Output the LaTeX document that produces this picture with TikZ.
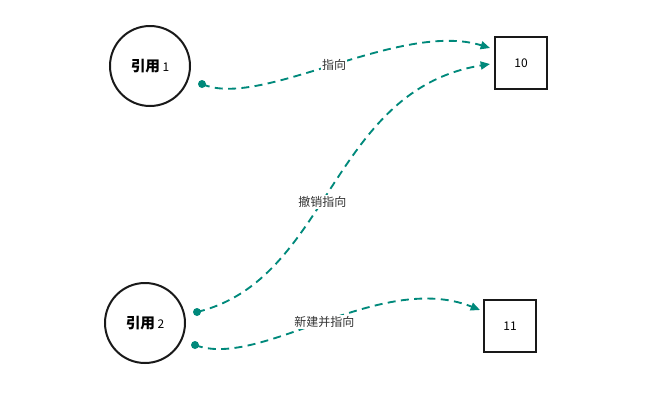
\documentclass[tikz,border=0pt]{standalone}
\usepackage{fontspec}
\setmainfont{Noto Sans CJK SC}
\usetikzlibrary{arrows.meta}
\definecolor{teal1}{HTML}{00897B}
\begin{document}
\begin{tikzpicture}[x=0.75pt,y=-0.75pt,
  ref/.style={circle,draw=black!90,line width=1.5pt,minimum size=60pt,font=\bfseries\fontsize{11}{13}\selectfont},
  val/.style={rectangle,draw=black!90,line width=1.5pt,minimum size=39pt,font=\fontsize{9}{11}\selectfont},
  lnk/.style={teal1,dashed,dash pattern=on 6pt off 4pt,line width=1.4pt,-{Triangle[length=7pt,width=6pt]}},
  dot/.style={circle,fill=teal1,inner sep=0pt,minimum size=6pt},
  lab/.style={font=\fontsize{9}{11}\selectfont,text=black!80,fill=white,inner sep=1pt}]
\useasboundingbox (0,0) rectangle (650,411);
\node[ref] (r1) at (150,66) {引用\,{\normalfont\small 1}};
\node[ref] (r2) at (145,323) {引用\,{\normalfont\small 2}};
\node[val] (v10) at (521,63) {10};
\node[val] (v11) at (510,326) {11};
\node[dot] (d1) at (202,84) {};
\node[dot] (d2) at (197,312) {};
\node[dot] (d3) at (195,345) {};
\coordinate (e1) at (490,48);
\coordinate (e2) at (490,64);
\coordinate (e3) at (480,310);
\draw[lnk] (d1.center) .. controls (260,110) and (400,20) .. node[lab,pos=0.5]{指向} (e1);
\draw[lnk] (d2.center) .. controls (330,280) and (330,90) .. node[lab,pos=0.45]{撤销指向} (e2);
\draw[lnk] (d3.center) .. controls (260,370) and (380,270) .. node[lab,pos=0.5]{新建并指向} (e3);
\end{tikzpicture}
\end{document}
